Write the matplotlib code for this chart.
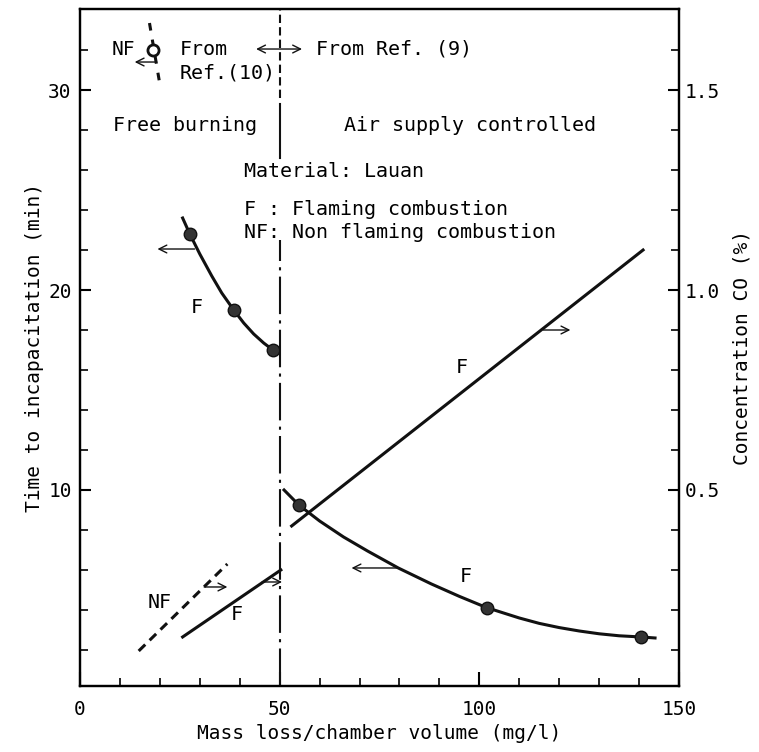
import numpy as np
import matplotlib.pyplot as plt

plt.rcParams['font.family'] = 'DejaVu Sans Mono'
plt.rcParams['font.size'] = 14

# time to incapacitation (min), flaming, free burning region
free_x = [25.7, 27.5, 30.0, 33.0, 35.5, 38.5, 41.0, 43.5, 46.0, 48.3, 49.1]
free_t = [23.6, 22.8, 21.8, 20.7, 19.85, 19.0, 18.35, 17.8, 17.35, 17.0, 16.88]
free_pts_x = [27.5, 38.5, 48.3]
free_pts_t = [22.8, 19.0, 17.0]

# time to incapacitation (min), flaming, air supply controlled
ctrl_x = [51.1, 54.8, 60.0, 66.0, 72.0, 79.7, 88.0, 95.0, 101.8, 110.0, 115.0,
          120.0, 125.0, 130.0, 135.0, 140.5, 144.0]
ctrl_t = [10.0, 9.25, 8.45, 7.65, 6.95, 6.1, 5.3, 4.68, 4.12, 3.6, 3.33,
          3.12, 2.95, 2.81, 2.71, 2.65, 2.6]
ctrl_pts_x = [54.8, 101.8, 140.5]
ctrl_pts_t = [9.25, 4.1, 2.65]

# CO concentration (%)
co_ctrl_x = [53.0, 141.0]
co_ctrl = [0.41, 1.10]
co_free_x = [25.7, 50.3]
co_free = [0.1325, 0.30]
co_nf_x = [14.7, 36.9]
co_nf = [0.0975, 0.315]

# Ref.(10) non flaming point
nf_ref_x = 18.2
nf_ref_t = 32.0

boundary = 50

fig = plt.figure(figsize=(7.59, 7.52), dpi=100)
ax = fig.add_axes([0.1054, 0.0878, 0.7892, 0.9002])
ax2 = ax.twinx()

lc = '#111111'
ax.plot(free_x, free_t, color=lc, lw=2.2)
ax.plot(free_pts_x, free_pts_t, 'o', color='#333333', mec=lc, ms=9)
ax.plot(ctrl_x, ctrl_t, color=lc, lw=2.2)
ax.plot(ctrl_pts_x, ctrl_pts_t, 'o', color='#333333', mec=lc, ms=9)

ax2.plot(co_ctrl_x, co_ctrl, color=lc, lw=2.2)
ax2.plot(co_free_x, co_free, color=lc, lw=2.2)
ax2.plot(co_nf_x, co_nf, color=lc, lw=2.2, ls=(0, (3, 2)))

# Ref.(10) marker with scatter bar
ax.plot([17.4, 19.9], [33.35, 30.4], color=lc, lw=2.2, ls=(0, (2.5, 3)))
ax.plot([nf_ref_x], [nf_ref_t], 'o', mfc='white', mec=lc, mew=2, ms=8)
ax.text(13.9, 32.05, 'NF', ha='right', va='center')

# boundary line
ax.plot([boundary, boundary], [29.6, 34.05], color=lc, lw=1.5, ls=(0, (4, 2)))
ax.plot([boundary, boundary], [26.6, 29.3], color=lc, lw=1.5)
ax.plot([boundary, boundary], [0.2, 22.5], color=lc, lw=1.5, ls=(0, (18, 3, 1.5, 3)))

arr = dict(arrowstyle='->', color=lc, lw=1.0, shrinkA=0, shrinkB=0)
ax.annotate('', xy=(13.7, 31.4), xytext=(19.2, 31.4), arrowprops=arr)
ax.annotate('', xy=(44.1, 32.05), xytext=(55.6, 32.05),
            arrowprops=dict(arrowstyle='<->', color=lc, lw=1.0, shrinkA=0, shrinkB=0))
ax.annotate('', xy=(19.4, 22.05), xytext=(28.7, 22.05), arrowprops=arr)
ax.annotate('', xy=(68.0, 6.1), xytext=(79.7, 6.1), arrowprops=arr)
ax2.annotate('', xy=(122.8, 0.9), xytext=(116.0, 0.9), arrowprops=arr)
ax2.annotate('', xy=(36.9, 0.2575), xytext=(31.1, 0.2575), arrowprops=arr)
ax2.annotate('', xy=(50.6, 0.27), xytext=(45.6, 0.27), arrowprops=arr)

fs = 14.4
ax.text(24.9, 32.05, 'From', va='center', fontsize=fs)
ax.text(24.9, 30.85, 'Ref.(10)', va='center', fontsize=fs)
ax.text(59.1, 32.05, 'From Ref. (9)', va='center', fontsize=fs)
ax.text(8.2, 28.25, 'Free burning', va='center', fontsize=fs)
ax.text(66.0, 28.25, 'Air supply controlled', va='center', fontsize=fs)
ax.text(41.1, 25.95, 'Material: Lauan', va='center', fontsize=fs)
ax.text(41.1, 24.05, 'F : Flaming combustion', va='center', fontsize=fs)
ax.text(41.1, 22.9, 'NF: Non flaming combustion', va='center', fontsize=fs)

ax.text(29.3, 19.15, 'F', ha='center', va='center', fontsize=fs)
ax.text(95.5, 16.1, 'F', ha='center', va='center', fontsize=fs)
ax.text(96.7, 5.65, 'F', ha='center', va='center', fontsize=fs)
ax.text(39.3, 3.75, 'F', ha='center', va='center', fontsize=fs)
ax.text(19.9, 4.35, 'NF', ha='center', va='center', fontsize=fs)

ax.set_xlim(0, 150)
ax.set_ylim(0.2, 34.05)
ax2.set_ylim(0.2 / 20, 34.05 / 20)

ax.set_xticks([0, 50, 100, 150])
ax.set_xticks(np.arange(10, 150, 10), minor=True)
ax.set_yticks([10, 20, 30])
ax.set_yticks(np.arange(2, 34, 2), minor=True)
ax2.set_yticks([0.5, 1.0, 1.5])
ax2.set_yticklabels(['0.5', '1.0', '1.5'])
ax2.set_yticks(np.arange(0.1, 1.7, 0.1), minor=True)

for a in (ax, ax2):
    a.tick_params(which='major', direction='in', length=8, width=1.5, labelsize=14)
    a.tick_params(which='minor', direction='in', length=6, width=1.2)
    for s in a.spines.values():
        s.set_linewidth(1.6)
ax.tick_params(axis='x', which='major', length=10, pad=10)
ax.tick_params(axis='y', pad=6)
ax2.tick_params(axis='y', pad=4)

ax.set_xlabel('Mass loss/chamber volume (mg/l)', labelpad=4)
ax.set_ylabel('Time to incapacitation (min)', labelpad=3)
ax2.set_ylabel('Concentration CO (%)', labelpad=9)

fig.savefig('out.png', dpi=100)
